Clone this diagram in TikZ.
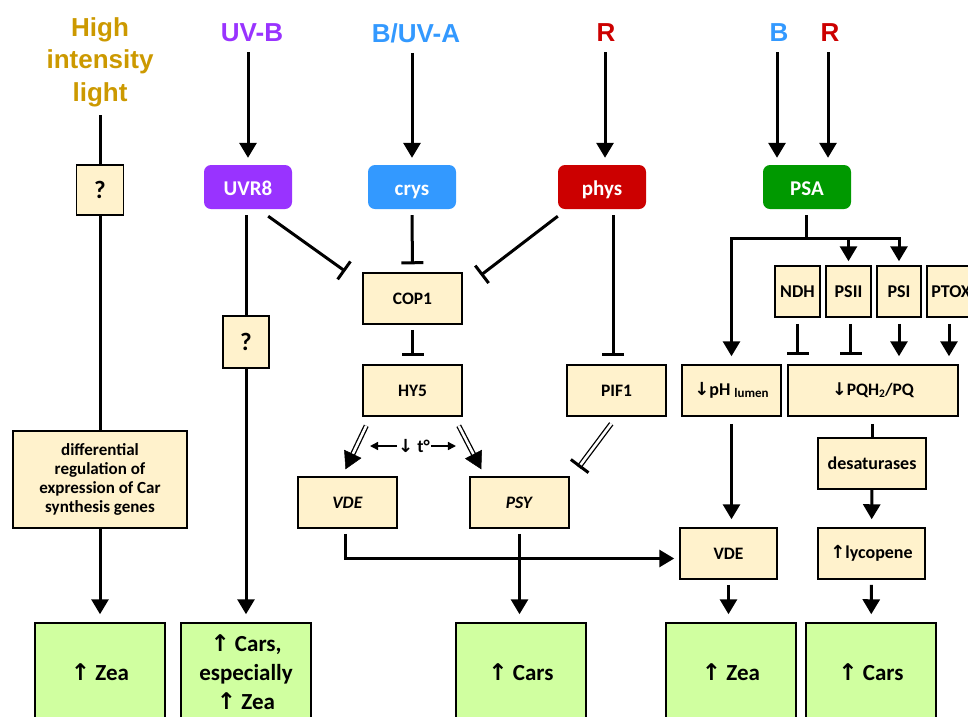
\documentclass[tikz,border=0pt]{standalone}
\usepackage{fontspec}
\setmainfont{Carlito}
\newfontfamily\titlefont{Liberation Sans}
\newfontfamily\arr{DejaVu Sans}
\usetikzlibrary{arrows.meta,calc}
\definecolor{beige}{HTML}{FFF2CC}
\definecolor{lgreen}{HTML}{D0FFA0}
\definecolor{cpurple}{HTML}{9933FF}
\definecolor{cblue}{HTML}{3399FF}
\definecolor{cred}{HTML}{CC0000}
\definecolor{cgreen}{HTML}{009900}
\definecolor{cgold}{HTML}{CC9900}
\begin{document}
\begin{tikzpicture}[x=1pt,y=-1pt,
  box/.style={draw=black, line width=1.5pt, fill=beige, inner sep=0pt, align=center, font=\bfseries\fontsize{17.5}{20}\selectfont},
  sbox/.style={box, font=\bfseries\fontsize{18}{20}\selectfont},
  res/.style={draw=black, line width=1.5pt, fill=lgreen, inner sep=0pt, align=center, minimum width=130pt, minimum height=98pt, font=\bfseries\fontsize{23}{29}\selectfont},
  recep/.style={rounded corners=7pt, inner sep=0pt, minimum width=88pt, minimum height=44pt, text height=19pt, text depth=3pt, text=white, font=\bfseries\fontsize{21}{24}\selectfont},
  ttl/.style={font=\titlefont\bfseries\fontsize{26}{32.5}\selectfont, align=center, inner sep=0pt},
  act/.style={line width=3pt, -{Triangle[length=15pt,width=17pt]}},
  inh/.style={line width=3pt, -{Bar[width=22pt]}},
  ln/.style={line width=3pt},
  dbl/.style={line width=1.3pt, double=white, double distance=2.6pt},
  dtip/.style={line width=0.5pt, -{Triangle[length=17pt,width=19pt]}},
  qbox/.style={box, font=\bfseries\fontsize{25}{26}\selectfont},
]
\path[use as bounding box, clip] (0,0) rectangle (968,716);

% titles
\node[ttl, text=cgold] (hil) at (100,62) {High\\intensity\\light};
\node[ttl, text=cpurple] (uvb) at (252,33) {UV-B};
\node[ttl, text=cblue] (buva) at (416,33) {B/UV-A};
\node[ttl, text=cred] (r1) at (606,33) {R};
\node[ttl, text=cblue] (b2) at (779,33) {B};
\node[ttl, text=cred] (r2) at (830,33) {R};

% receptors
\node[recep, fill=cpurple] (uvr8) at (248,187) {UVR8};
\node[recep, fill=cblue] (crys) at (412,187) {crys};
\node[recep, fill=cred] (phys) at (602,187) {phys};
\node[recep, fill=cgreen] (psa) at (807,187) {PSA};

% beige boxes
\node[qbox, minimum width=47pt, minimum height=50pt] (q1) at (100,190) {?};
\node[qbox, minimum width=46pt, minimum height=52pt] (q2) at (246,342) {?};
\node[box, minimum width=174pt, minimum height=97pt, font=\bfseries\fontsize{17}{19}\selectfont] (diff) at (100,479.5) {differential\\regulation of\\expression of Car\\synthesis genes};
\node[box, minimum width=99pt, minimum height=51pt] (cop1) at (412.5,298.5) {COP1};
\node[box, minimum width=99pt, minimum height=51pt] (hy5) at (412.5,390.5) {HY5};
\node[box, minimum width=99pt, minimum height=51pt] (pif1) at (616.5,390.5) {PIF1};
\node[box, minimum width=99pt, minimum height=51pt] (vdei) at (347.5,502.5) {\textit{VDE}};
\node[box, minimum width=99pt, minimum height=51pt] (psyi) at (519.5,502.5) {\textit{PSY}};
\node[sbox, minimum width=45pt, minimum height=51pt] (ndh) at (797.5,291.5) {NDH};
\node[sbox, minimum width=45pt, minimum height=51pt] (psii) at (848.5,291.5) {PSII};
\node[sbox, minimum width=44pt, minimum height=51pt] (psi) at (899,291.5) {PSI};
\node[sbox, minimum width=48pt, minimum height=51pt] (ptox) at (951,291.5) {PTOX};
\node[sbox, minimum width=99pt, minimum height=51pt] (ph) at (731.5,390.5) {{\arr ↓}pH \raisebox{-2pt}{\fontsize{13}{13}\selectfont lumen}};
\node[box, minimum width=170pt, minimum height=51pt] (pq) at (873,390.5) {{\arr ↓}PQH\raisebox{-2pt}{\fontsize{11.5}{11.5}\selectfont 2}/PQ};
\node[sbox, minimum width=108pt, minimum height=51pt] (desat) at (872,463.5) {desaturases};
\node[box, minimum width=97pt, minimum height=51pt] (vder) at (728.5,553.5) {VDE};
\node[sbox, minimum width=107pt, minimum height=51pt] (lyc) at (871.5,553.5) {{\arr ↑}lycopene};

% result boxes
\node[res] (zea1) at (100,672) {{\arr ↑} Zea};
\node[res] (cars1) at (246,672) {{\arr ↑} Cars,\\especially\\{\arr ↑} Zea};
\node[res] (cars2) at (521,672) {{\arr ↑} Cars};
\node[res] (zea2) at (731,672) {{\arr ↑} Zea};
\node[res] (cars3) at (871,672) {{\arr ↑} Cars};

% light inputs
\draw[ln] ($(q1.north)+(0,-49)$) -- (q1.north);
\draw[act, shorten <=10pt, shorten >=7pt] (uvr8.north |- uvb.south) -- (uvr8.north);
\draw[act, shorten <=10pt, shorten >=7pt] (crys.north |- buva.south) -- (crys.north);
\draw[act, shorten <=10pt, shorten >=7pt] ([xshift=-1pt]r1.south) -- ([xshift=-1pt]r1.south |- phys.north);
\draw[act, shorten <=10pt, shorten >=7pt] ([xshift=-2pt]b2.south) -- ([xshift=-2pt]b2.south |- psa.north);
\draw[act, shorten <=10pt, shorten >=7pt] ([xshift=-2pt]r2.south) -- ([xshift=-2pt]r2.south |- psa.north);

% high intensity column
\draw[ln] (q1) -- (diff);
\draw[act, shorten >=8pt] (diff) -- (zea1);

% UVR8 column
\draw[ln, shorten <=6pt] (q2.north |- uvr8.south) -- (q2.north);
\draw[act, shorten >=8pt] (q2) -- (cars1);
\draw[inh] ($(uvr8.south east)+(-24,7)$) -- ($(cop1.north west)+(-17,-1)$);

% cry / phy
\draw[inh, shorten <=6pt, shorten >=8pt] (crys) -- (cop1);
\draw[inh] ($(phys.south west)+(0,7)$) -- ($(cop1.north east)+(18,3)$);
\draw[inh, shorten <=5pt, shorten >=8pt] (cop1) -- (hy5);
\coordinate (pp) at ($(pif1.north)+(-3.5,0)$);
\draw[inh, shorten <=6pt, shorten >=8pt] (pp |- phys.south) -- (pp);

% HY5 -> VDE, PSY (double arrows)
\coordinate (h1s) at ($(hy5.south west)+(4,9)$);
\coordinate (h1t) at ($(vdei.north)+(-2,-7)$);
\draw[dbl] (h1s) -- ($(h1t)!16pt!(h1s)$);
\draw[dtip] ($(h1t)!17pt!(h1s)$) -- (h1t);
\coordinate (h2s) at ($(hy5.south east)+(-4,9)$);
\coordinate (h2t) at ($(psyi.north west)+(12,-7)$);
\draw[dbl] (h2s) -- ($(h2t)!16pt!(h2s)$);
\draw[dtip] ($(h2t)!17pt!(h2s)$) -- (h2t);
% PIF1 -| PSY
\coordinate (p1s) at ($(pif1.south west)+(45,7)$);
\coordinate (p1t) at ($(psyi.north east)+(9,-9)$);
\draw[dbl] (p1s) -- (p1t);
\draw[line width=3pt, -{Bar[width=22pt]}] ($(p1t)!1pt!(p1s)$) -- (p1t);

% temperature
\node[font=\bfseries\fontsize{18}{18}\selectfont, inner sep=1pt] (temp) at (414,446) {{\arr ↓} t°};
\draw[line width=1.5pt, -{Triangle[length=8pt,width=8pt]}] (temp.west) -- ++(-27,0);
\draw[line width=1.5pt, -{Triangle[length=8pt,width=8pt]}] (temp.east) -- ++(25,0);

% VDE / PSY outputs
\draw[act, shorten >=5pt] ($(vdei.south)+(-2,5)$) |- ($(vder.west)+(0,5)$);
\draw[act, shorten <=5pt, shorten >=8pt] (psyi.south) -- (psyi.south |- cars2.north);

% PSA branch
\coordinate (hl) at ($(psa.south)+(0,29)$);
\draw[ln, shorten <=6pt] ([xshift=-1pt]psa.south) -- ([xshift=-1pt]psa.south |- hl);
\draw[act, shorten >=8pt] (hl -| psi.north) -- (hl -| ph.north) -- (ph.north);
\draw[act, shorten >=4pt] (hl -| ph.north) -- (hl -| psi.north) -- (psi.north);
\draw[act, shorten >=4pt] (hl -| psii.north) -- (psii.north);

\draw[inh, shorten <=6pt, shorten >=9pt] (ndh.south) -- (ndh.south |- pq.north);
\draw[inh, shorten <=6pt, shorten >=9pt] ([xshift=2pt]psii.south) -- ([xshift=2pt]psii.south |- pq.north);
\draw[act, shorten <=6pt, shorten >=8pt] (psi.south) -- (psi.south |- pq.north);
\draw[act, shorten <=6pt, shorten >=8pt] ([xshift=-2pt]ptox.south) -- ([xshift=-2pt]ptox.south |- pq.north);

\draw[act, shorten <=7pt, shorten >=8pt] (ph.south) -- (ph.south |- vder.north);
\draw[ln, shorten <=7pt] (desat.north |- pq.south) -- (desat.north);
\draw[act, shorten >=8pt] (desat) -- (lyc);
\draw[act, shorten <=5pt, shorten >=8pt] (vder.south) -- (vder.south |- zea2.north);
\draw[act, shorten <=5pt, shorten >=8pt] (lyc) -- (cars3);
\end{tikzpicture}
\end{document}
